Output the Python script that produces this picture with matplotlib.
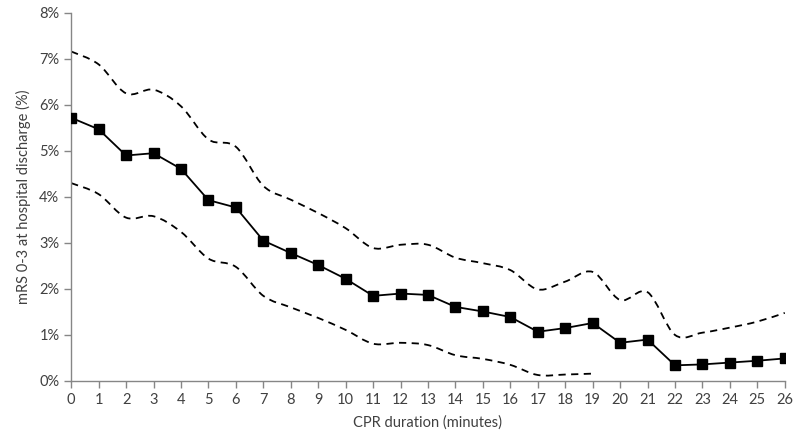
import matplotlib
matplotlib.use("Agg")
import matplotlib.pyplot as plt
from matplotlib.path import Path
from matplotlib.patches import PathPatch
from matplotlib.ticker import FuncFormatter

minutes = list(range(27))
mean_pct = [5.72, 5.47, 4.90, 4.95, 4.61, 3.93, 3.77, 3.05, 2.78, 2.52, 2.22, 1.85, 1.90, 1.87,
            1.61, 1.51, 1.39, 1.07, 1.15, 1.26, 0.83, 0.90, 0.34, 0.36, 0.40, 0.44, 0.49]
upper_pct = [7.16, 6.88, 6.25, 6.33, 5.97, 5.25, 5.09, 4.24, 3.94, 3.65, 3.32, 2.89, 2.96, 2.96,
             2.68, 2.56, 2.41, 1.99, 2.16, 2.37, 1.76, 1.93, 1.00, 1.05, 1.16, 1.29, 1.48]
lower_pct = [4.30, 4.06, 3.55, 3.58, 3.24, 2.66, 2.48, 1.85, 1.60, 1.37, 1.11, 0.81, 0.83, 0.78,
             0.56, 0.48, 0.35, 0.13, 0.14, 0.16]

txt = "#404040"
grey = "#868686"
plt.rcParams['font.family'] = ['Lato', 'DejaVu Sans']


def smooth_path(xs, ys):
    # excel-style smoothed line: catmull-rom turned into bezier segments
    verts = [(xs[0], ys[0])]
    codes = [Path.MOVETO]
    n = len(xs)
    for i in range(n - 1):
        x0, y0 = (xs[i - 1], ys[i - 1]) if i > 0 else (xs[i], ys[i])
        x1, y1 = xs[i], ys[i]
        x2, y2 = xs[i + 1], ys[i + 1]
        x3, y3 = (xs[i + 2], ys[i + 2]) if i + 2 < n else (x2, y2)
        t = 1 / 6.0
        verts += [(x1 + (x2 - x0) * t, y1 + (y2 - y0) * t),
                  (x2 - (x3 - x1) * t, y2 - (y3 - y1) * t),
                  (x2, y2)]
        codes += [Path.CURVE4] * 3
    return Path(verts, codes)


fig = plt.figure(figsize=(8, 4.43), dpi=100)
ax = fig.add_axes([0.089, 0.14, 0.892, 0.831])

for ys in (upper_pct, lower_pct):
    p = smooth_path(minutes[:len(ys)], ys)
    ax.add_patch(PathPatch(p, facecolor='none', edgecolor='black', lw=1.3, ls=(0, (4, 3))))

ax.plot(minutes, mean_pct, color='black', lw=1.3, marker='s', ms=6.5, zorder=3)

ax.set_xlim(0, 26)
ax.set_ylim(0, 8)
ax.set_xticks(minutes)
ax.set_yticks(range(9))
ax.yaxis.set_major_formatter(FuncFormatter(lambda v, p: "%d%%" % v))

for s in ('top', 'right'):
    ax.spines[s].set_visible(False)
for s in ('left', 'bottom'):
    ax.spines[s].set_color(grey)
    ax.spines[s].set_linewidth(1.0)
ax.tick_params(direction='out', length=5, width=1.0, color=grey, labelcolor=txt, labelsize=10.5)
ax.tick_params(axis='x', pad=4)

ax.set_xlabel("CPR duration (minutes)", fontsize=10.5, color=txt, labelpad=6)
ax.set_ylabel("mRS 0-3 at hospital discharge (%)", fontsize=10.5, color=txt, labelpad=6)
ax.patch.set_visible(False)

fig.savefig("out.png", dpi=100)
